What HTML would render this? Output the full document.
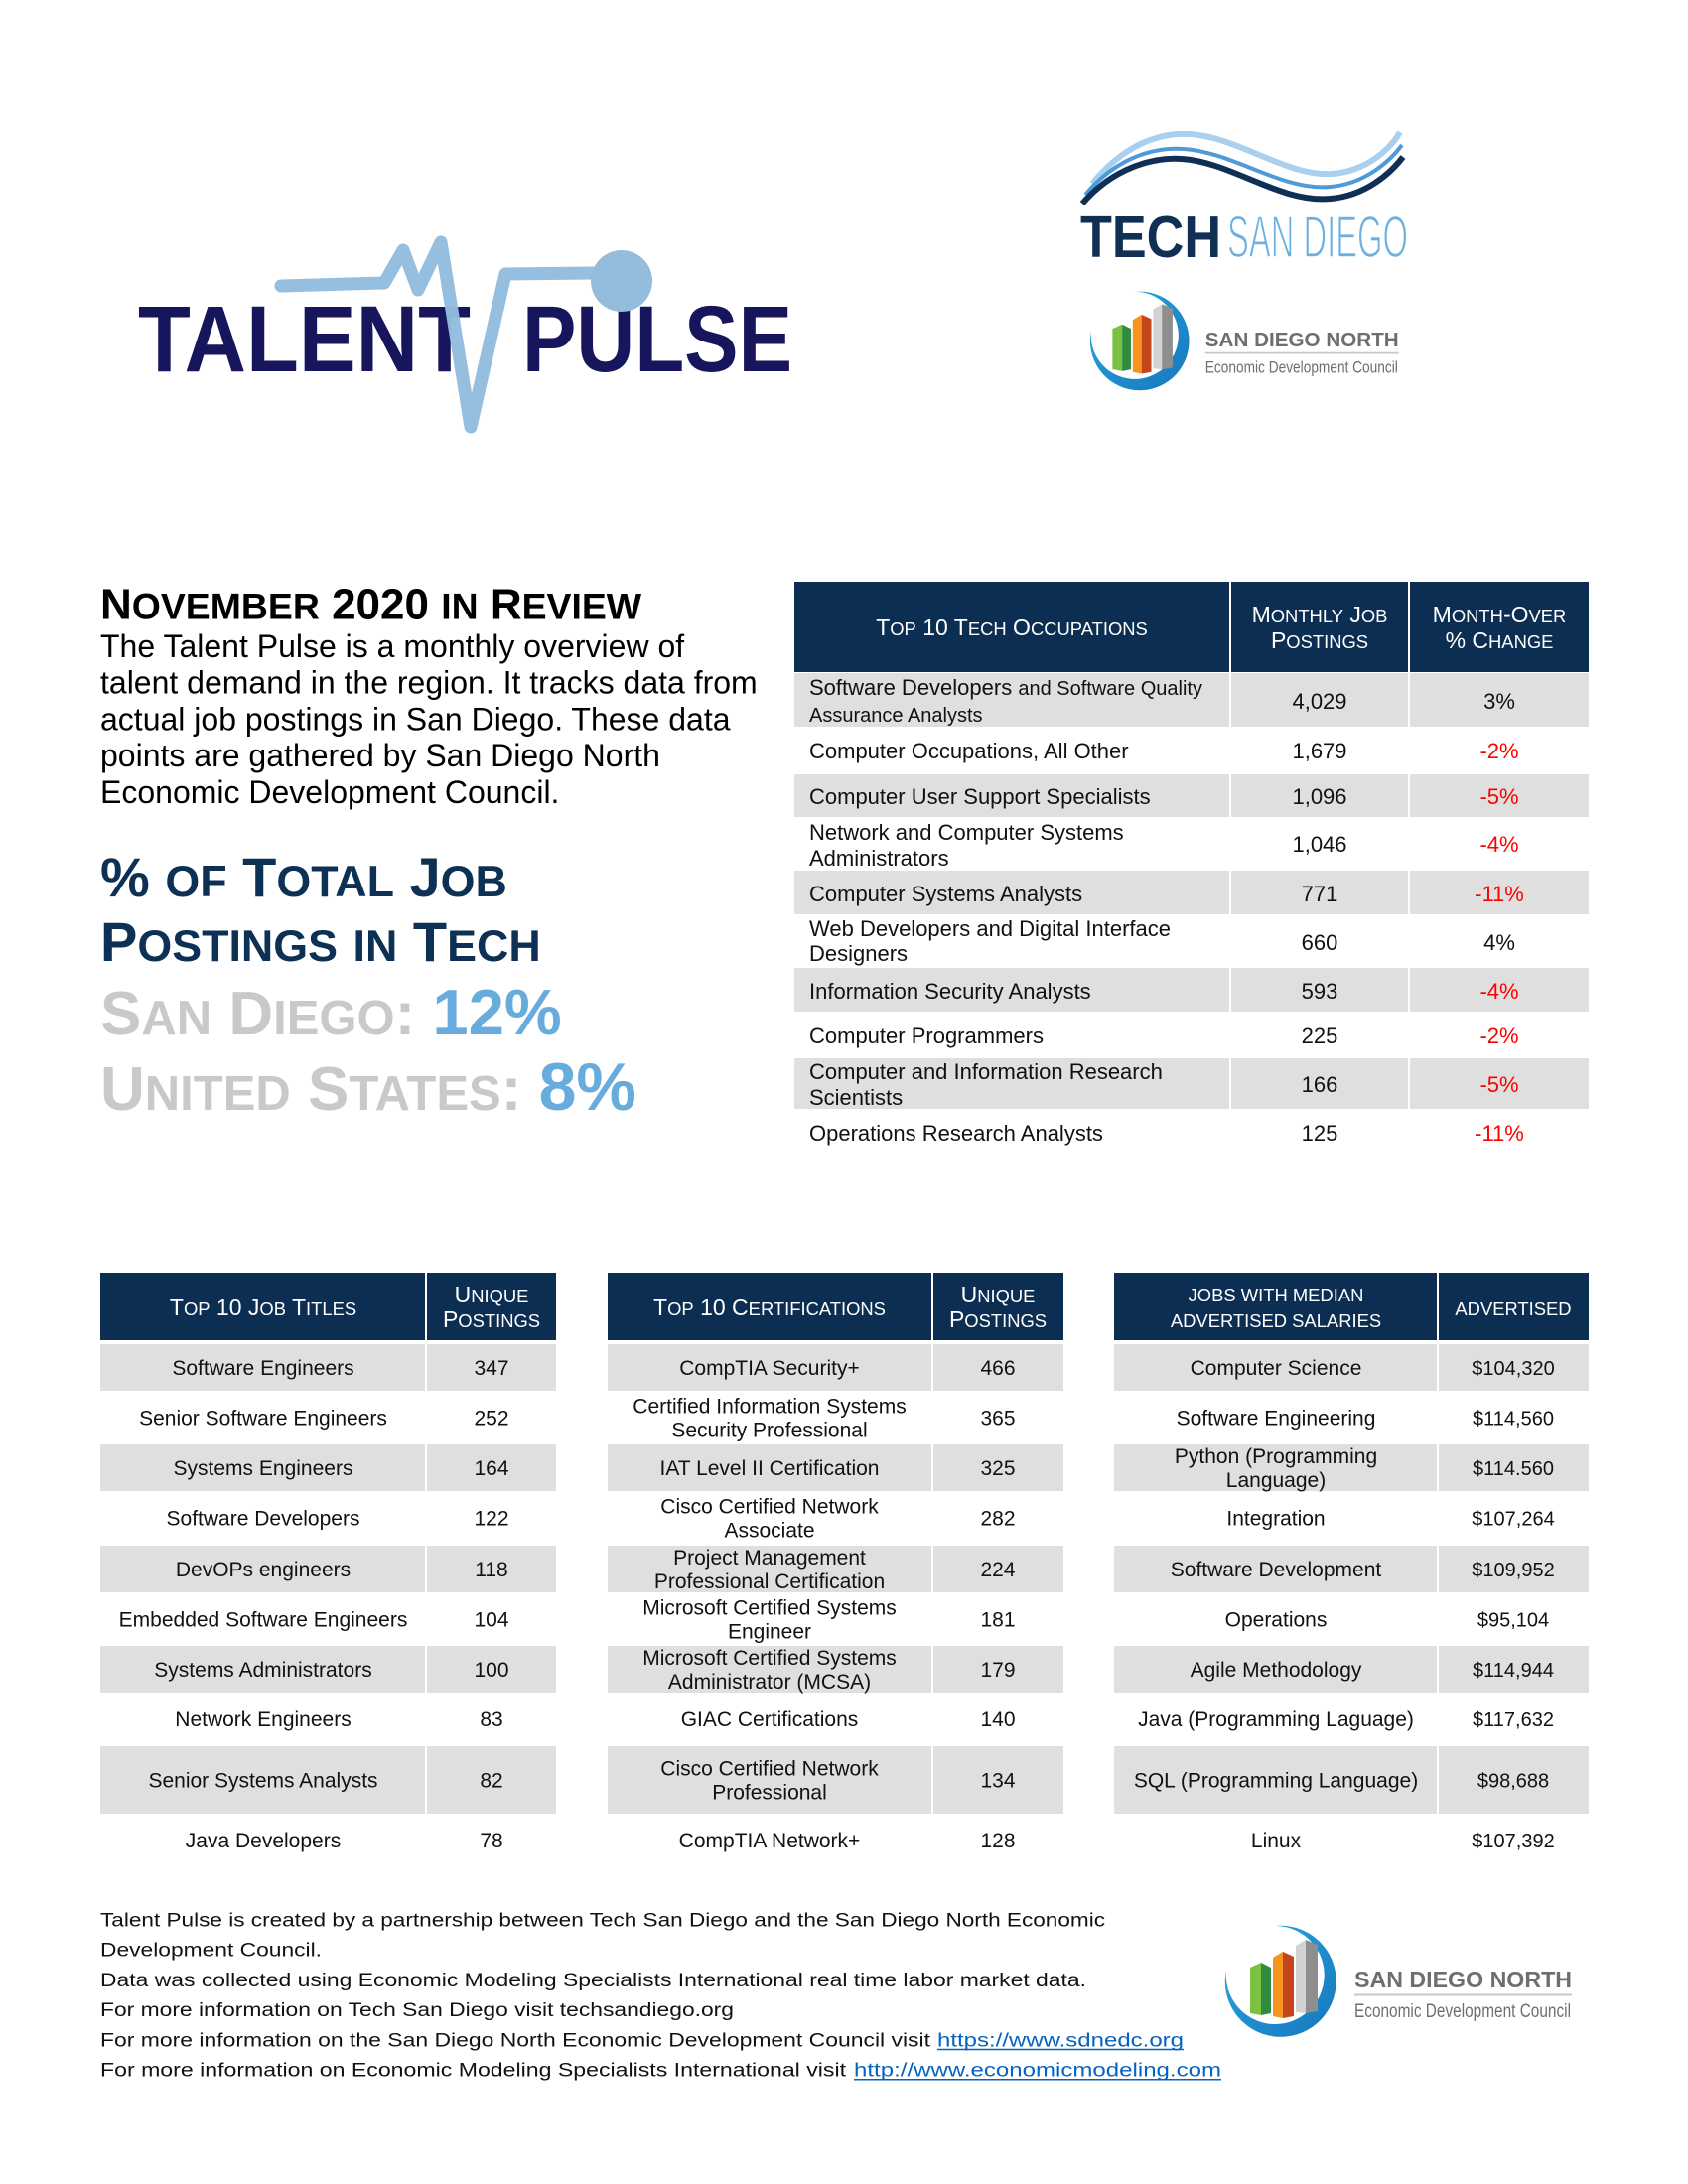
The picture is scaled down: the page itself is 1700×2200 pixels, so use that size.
<!DOCTYPE html>
<html><head><meta charset="utf-8"><style>
html,body{margin:0;padding:0;background:#fff;}
svg{display:block;}
text{font-family:"Liberation Sans",Arial,sans-serif;}
</style></head><body>
<svg width="1700" height="2200" viewBox="0 0 1700 2200" xmlns="http://www.w3.org/2000/svg">
<defs>
<linearGradient id="sw" x1="0" y1="0" x2="1" y2="1"><stop offset="0" stop-color="#2aa7e0"/><stop offset="1" stop-color="#1677bd"/></linearGradient>
</defs>
<rect width="1700" height="2200" fill="#fff"/>

<!-- TALENT PULSE logo -->
<text x="139" y="374" font-size="95" font-weight="bold" fill="#17155b" textLength="335" lengthAdjust="spacingAndGlyphs">TALENT</text>
<text x="526" y="374" font-size="95" font-weight="bold" fill="#17155b" textLength="272" lengthAdjust="spacingAndGlyphs">PULSE</text>
<polyline points="283,288 387,285 406,252 421,292 444,244 474,430 509,276 597,275" fill="none" stroke="#93bcdd" stroke-width="13" stroke-linecap="round" stroke-linejoin="round" opacity="0.97"/>
<circle cx="626" cy="283" r="31" fill="#93bcdd"/>

<!-- TECH SAN DIEGO logo -->
<path d="M1100 185 C1130 148,1165 133,1198 135 C1248 138,1295 178,1342 175 C1377 172,1400 150,1410 133" fill="none" stroke="#a9d0ef" stroke-width="6"/>
<path d="M1093 196 C1123 160,1160 148,1192 150 C1242 153,1292 193,1340 188 C1375 185,1400 162,1412 146" fill="none" stroke="#4f9ad8" stroke-width="4"/>
<path d="M1090 205 C1120 170,1160 158,1190 160 C1240 163,1290 205,1340 200 C1375 197,1400 175,1413 158" fill="none" stroke="#0f2f55" stroke-width="6"/>
<text x="1088" y="259" font-size="59" font-weight="bold" fill="#0f2f55" textLength="142" lengthAdjust="spacingAndGlyphs">TECH</text>
<text x="1236" y="259" font-size="59" fill="#6cb0e2" stroke="#fff" stroke-width="1.6" textLength="182" lengthAdjust="spacingAndGlyphs">SAN DIEGO</text>

<!-- SDN logo top -->
<g transform="translate(1099,292) scale(0.89)">
<path d="M50 2 A56 56 0 1 1 0 46 A49.5 49.5 0 1 0 50 2 Z" fill="url(#sw)"/>
<polygon points="24,44 35,39 35,92 24,90" fill="#7cc242"/><polygon points="35,39 45,44 45,90 35,92" fill="#2e8b3f"/>
<polygon points="47,34 57,28 57,95 47,93" fill="#f7941d"/><polygon points="57,28 68,33 68,93 57,95" fill="#c4441c"/>
<polygon points="70,22 80,16 80,90 70,89" fill="#d2d2d2"/><polygon points="80,16 92,21 92,88 80,90" fill="#8e8e8e"/>
<text x="129" y="64" font-size="23" font-weight="bold" fill="#6d6e71" textLength="219" lengthAdjust="spacingAndGlyphs">SAN DIEGO NORTH</text>
<line x1="129" y1="71.5" x2="348" y2="71.5" stroke="#c8c8c8" stroke-width="2"/>
<text x="129" y="94" font-size="19" fill="#6d6e71" textLength="218" lengthAdjust="spacingAndGlyphs">Economic Development Council</text>
</g>

<!-- Left text block -->
<text x="101" y="623.5" font-size="44" font-weight="bold" fill="#000">N<tspan font-size="37.4">OVEMBER</tspan> 2020 <tspan font-size="37.4">IN</tspan> R<tspan font-size="37.4">EVIEW</tspan></text>
<g font-size="32" fill="#000">
<text x="101" y="662">The Talent Pulse is a monthly overview of</text>
<text x="101" y="698.5">talent demand in the region. It tracks data from</text>
<text x="101" y="735.5">actual job postings in San Diego. These data</text>
<text x="101" y="772">points are gathered by San Diego North</text>
<text x="101" y="809">Economic Development Council.</text>
</g>
<g font-weight="bold" fill="#0c3154" font-size="56">
<text x="101" y="903">% <tspan font-size="44.8">OF</tspan> T<tspan font-size="44.8">OTAL</tspan> J<tspan font-size="44.8">OB</tspan></text>
<text x="101" y="968">P<tspan font-size="44.8">OSTINGS</tspan> <tspan font-size="44.8">IN</tspan> T<tspan font-size="44.8">ECH</tspan></text>
</g>
<g font-weight="bold" fill="#c9c9c9" font-size="62">
<text x="101" y="1042">S<tspan font-size="49">AN</tspan> D<tspan font-size="49">IEGO</tspan>: <tspan fill="#68acdd" font-size="65">12%</tspan></text>
<text x="101" y="1118">U<tspan font-size="49">NITED</tspan> S<tspan font-size="49">TATES</tspan>: <tspan fill="#68acdd" font-size="68">8%</tspan></text>
</g>

<!-- Top table -->
<rect x="800" y="586" width="800" height="91" fill="#0c2e52"/>
<rect x="1238" y="586" width="2" height="91" fill="#fff"/>
<rect x="1418" y="586" width="2" height="91" fill="#fff"/>
<g fill="#dfdfdf">
<rect x="800" y="678" width="438" height="54"/><rect x="1240" y="678" width="178" height="54"/><rect x="1420" y="678" width="180" height="54"/>
<rect x="800" y="780" width="438" height="43"/><rect x="1240" y="780" width="178" height="43"/><rect x="1420" y="780" width="180" height="43"/>
<rect x="800" y="877" width="438" height="44"/><rect x="1240" y="877" width="178" height="44"/><rect x="1420" y="877" width="180" height="44"/>
<rect x="800" y="975" width="438" height="44"/><rect x="1240" y="975" width="178" height="44"/><rect x="1420" y="975" width="180" height="44"/>
<rect x="800" y="1066" width="438" height="51"/><rect x="1240" y="1066" width="178" height="51"/><rect x="1420" y="1066" width="180" height="51"/>
</g>
<g fill="#fff" font-size="23" text-anchor="middle">
<text x="1019" y="640">T<tspan font-size="18.4">OP</tspan> 10 T<tspan font-size="18.4">ECH</tspan> O<tspan font-size="18.4">CCUPATIONS</tspan></text>
<text x="1329" y="627">M<tspan font-size="18.4">ONTHLY</tspan> J<tspan font-size="18.4">OB</tspan></text>
<text x="1329" y="653">P<tspan font-size="18.4">OSTINGS</tspan></text>
<text x="1510" y="627">M<tspan font-size="18.4">ONTH</tspan>-O<tspan font-size="18.4">VER</tspan></text>
<text x="1510" y="653">% C<tspan font-size="18.4">HANGE</tspan></text>
</g>
<g font-size="22" fill="#111">
<text x="815" y="700">Software Developers <tspan font-size="20">and Software Quality</tspan></text>
<text x="815" y="727" font-size="20">Assurance Analysts</text>
<text x="815" y="764">Computer Occupations, All Other</text>
<text x="815" y="810">Computer User Support Specialists</text>
<text x="815" y="846">Network and Computer Systems</text>
<text x="815" y="872">Administrators</text>
<text x="815" y="908">Computer Systems Analysts</text>
<text x="815" y="943">Web Developers and Digital Interface</text>
<text x="815" y="968">Designers</text>
<text x="815" y="1006">Information Security Analysts</text>
<text x="815" y="1051">Computer Programmers</text>
<text x="815" y="1087">Computer and Information Research</text>
<text x="815" y="1113">Scientists</text>
<text x="815" y="1149">Operations Research Analysts</text>
</g>
<g font-size="22" fill="#111" text-anchor="middle">
<text x="1329" y="714">4,029</text><text x="1510" y="714">3%</text>
<text x="1329" y="764">1,679</text>
<text x="1329" y="810">1,096</text>
<text x="1329" y="858">1,046</text>
<text x="1329" y="908">771</text>
<text x="1329" y="957">660</text><text x="1510" y="957">4%</text>
<text x="1329" y="1006">593</text>
<text x="1329" y="1051">225</text>
<text x="1329" y="1100">166</text>
<text x="1329" y="1149">125</text>
</g>
<g font-size="22" fill="#ff0000" text-anchor="middle">
<text x="1510" y="764">-2%</text>
<text x="1510" y="810">-5%</text>
<text x="1510" y="858">-4%</text>
<text x="1510" y="908">-11%</text>
<text x="1510" y="1006">-4%</text>
<text x="1510" y="1051">-2%</text>
<text x="1510" y="1100">-5%</text>
<text x="1510" y="1149">-11%</text>
</g>

<!-- Bottom tables: headers -->
<g fill="#0c2e52">
<rect x="101" y="1282" width="459" height="68"/>
<rect x="612" y="1282" width="459" height="68"/>
<rect x="1122" y="1282" width="478" height="68"/>
</g>
<g fill="#fff">
<rect x="428" y="1282" width="2" height="68"/>
<rect x="938" y="1282" width="2" height="68"/>
<rect x="1447" y="1282" width="2" height="68"/>
</g>
<!-- gray rows -->
<g fill="#dfdfdf">
<rect x="101" y="1354" width="327" height="47"/><rect x="430" y="1354" width="130" height="47"/>
<rect x="612" y="1354" width="326" height="47"/><rect x="940" y="1354" width="131" height="47"/>
<rect x="1122" y="1354" width="325" height="47"/><rect x="1449" y="1354" width="151" height="47"/>

<rect x="101" y="1455" width="327" height="47"/><rect x="430" y="1455" width="130" height="47"/>
<rect x="612" y="1455" width="326" height="47"/><rect x="940" y="1455" width="131" height="47"/>
<rect x="1122" y="1455" width="325" height="47"/><rect x="1449" y="1455" width="151" height="47"/>

<rect x="101" y="1557" width="327" height="47"/><rect x="430" y="1557" width="130" height="47"/>
<rect x="612" y="1557" width="326" height="47"/><rect x="940" y="1557" width="131" height="47"/>
<rect x="1122" y="1557" width="325" height="47"/><rect x="1449" y="1557" width="151" height="47"/>

<rect x="101" y="1658" width="327" height="47"/><rect x="430" y="1658" width="130" height="47"/>
<rect x="612" y="1658" width="326" height="47"/><rect x="940" y="1658" width="131" height="47"/>
<rect x="1122" y="1658" width="325" height="47"/><rect x="1449" y="1658" width="151" height="47"/>

<rect x="101" y="1759" width="327" height="68"/><rect x="430" y="1759" width="130" height="68"/>
<rect x="612" y="1759" width="326" height="68"/><rect x="940" y="1759" width="131" height="68"/>
<rect x="1122" y="1759" width="325" height="68"/><rect x="1449" y="1759" width="151" height="68"/>
</g>
<g fill="#fff" font-size="23" text-anchor="middle">
<text x="265" y="1325">T<tspan font-size="18.4">OP</tspan> 10 J<tspan font-size="18.4">OB</tspan> T<tspan font-size="18.4">ITLES</tspan></text>
<text x="495" y="1312">U<tspan font-size="18.4">NIQUE</tspan></text>
<text x="495" y="1337">P<tspan font-size="18.4">OSTINGS</tspan></text>
<text x="775" y="1325">T<tspan font-size="18.4">OP</tspan> 10 C<tspan font-size="18.4">ERTIFICATIONS</tspan></text>
<text x="1005" y="1312">U<tspan font-size="18.4">NIQUE</tspan></text>
<text x="1005" y="1337">P<tspan font-size="18.4">OSTINGS</tspan></text>
<text x="1285" y="1311" font-size="18.4">JOBS WITH MEDIAN</text>
<text x="1285" y="1337" font-size="18.4">ADVERTISED SALARIES</text>
<text x="1524" y="1325" font-size="18.4">ADVERTISED</text>
</g>
<!-- bottom table A -->
<g font-size="21" fill="#111" text-anchor="middle">
<text x="265" y="1385">Software Engineers</text><text x="495" y="1385">347</text>
<text x="265" y="1435.5">Senior Software Engineers</text><text x="495" y="1435.5">252</text>
<text x="265" y="1486">Systems Engineers</text><text x="495" y="1486">164</text>
<text x="265" y="1536.5">Software Developers</text><text x="495" y="1536.5">122</text>
<text x="265" y="1588">DevOPs engineers</text><text x="495" y="1588">118</text>
<text x="265" y="1638.5">Embedded Software Engineers</text><text x="495" y="1638.5">104</text>
<text x="265" y="1689">Systems Administrators</text><text x="495" y="1689">100</text>
<text x="265" y="1739">Network Engineers</text><text x="495" y="1739">83</text>
<text x="265" y="1800.5">Senior Systems Analysts</text><text x="495" y="1800.5">82</text>
<text x="265" y="1861">Java Developers</text><text x="495" y="1861">78</text>
</g>
<!-- bottom table B -->
<g font-size="21" fill="#111" text-anchor="middle">
<text x="775" y="1385">CompTIA Security+</text><text x="1005" y="1385">466</text>
<text x="775" y="1423.5">Certified Information Systems</text><text x="775" y="1447.5">Security Professional</text><text x="1005" y="1435.5">365</text>
<text x="775" y="1486">IAT Level II Certification</text><text x="1005" y="1486">325</text>
<text x="775" y="1524.5">Cisco Certified Network</text><text x="775" y="1548.5">Associate</text><text x="1005" y="1536.5">282</text>
<text x="775" y="1576">Project Management</text><text x="775" y="1600">Professional Certification</text><text x="1005" y="1588">224</text>
<text x="775" y="1626.5">Microsoft Certified Systems</text><text x="775" y="1650.5">Engineer</text><text x="1005" y="1638.5">181</text>
<text x="775" y="1677">Microsoft Certified Systems</text><text x="775" y="1701">Administrator (MCSA)</text><text x="1005" y="1689">179</text>
<text x="775" y="1739">GIAC Certifications</text><text x="1005" y="1739">140</text>
<text x="775" y="1788.5">Cisco Certified Network</text><text x="775" y="1812.5">Professional</text><text x="1005" y="1800.5">134</text>
<text x="775" y="1861">CompTIA Network+</text><text x="1005" y="1861">128</text>
</g>
<!-- bottom table C -->
<g font-size="21" fill="#111" text-anchor="middle">
<text x="1285" y="1385">Computer Science</text>
<text x="1285" y="1435.5">Software Engineering</text>
<text x="1285" y="1474">Python (Programming</text><text x="1285" y="1498">Language)</text>
<text x="1285" y="1536.5">Integration</text>
<text x="1285" y="1588">Software Development</text>
<text x="1285" y="1638.5">Operations</text>
<text x="1285" y="1689">Agile Methodology</text>
<text x="1285" y="1739">Java (Programming Laguage)</text>
<text x="1285" y="1800.5">SQL (Programming Language)</text>
<text x="1285" y="1861">Linux</text>
</g>
<g font-size="20" fill="#111" text-anchor="middle">
<text x="1524" y="1385">$104,320</text>
<text x="1524" y="1435.5">$114,560</text>
<text x="1524" y="1486">$114.560</text>
<text x="1524" y="1536.5">$107,264</text>
<text x="1524" y="1588">$109,952</text>
<text x="1524" y="1638.5">$95,104</text>
<text x="1524" y="1689">$114,944</text>
<text x="1524" y="1739">$117,632</text>
<text x="1524" y="1800.5">$98,688</text>
<text x="1524" y="1861">$107,392</text>
</g>

<!-- Footer -->
<g font-size="19" fill="#111">
<text x="101" y="1940.5" textLength="1012" lengthAdjust="spacingAndGlyphs">Talent Pulse is created by a partnership between Tech San Diego and the San Diego North Economic</text>
<text x="101" y="1970.7" textLength="223" lengthAdjust="spacingAndGlyphs">Development Council.</text>
<text x="101" y="2000.9" textLength="993" lengthAdjust="spacingAndGlyphs">Data was collected using Economic Modeling Specialists International real time labor market data.</text>
<text x="101" y="2031.1" textLength="638" lengthAdjust="spacingAndGlyphs">For more information on Tech San Diego visit techsandiego.org</text>
<text x="101" y="2061.3" textLength="836" lengthAdjust="spacingAndGlyphs">For more information on the San Diego North Economic Development Council visit</text>
<text x="101" y="2091.5" textLength="751" lengthAdjust="spacingAndGlyphs">For more information on Economic Modeling Specialists International visit</text>
</g>
<g font-size="19" fill="#0563c1">
<text x="944" y="2061.3" textLength="248" lengthAdjust="spacingAndGlyphs">https://www.sdnedc.org</text>
<text x="860" y="2091.5" textLength="370" lengthAdjust="spacingAndGlyphs">http://www.economicmodeling.com</text>
</g>
<line x1="944" y1="2064.5" x2="1192" y2="2064.5" stroke="#0563c1" stroke-width="1.5"/>
<line x1="860" y1="2094.7" x2="1230" y2="2094.7" stroke="#0563c1" stroke-width="1.5"/>

<!-- SDN logo bottom -->
<g transform="translate(1235,1938)">
<path d="M50 2 A56 56 0 1 1 0 46 A49.5 49.5 0 1 0 50 2 Z" fill="url(#sw)"/>
<polygon points="24,44 35,39 35,92 24,90" fill="#7cc242"/><polygon points="35,39 45,44 45,90 35,92" fill="#2e8b3f"/>
<polygon points="47,34 57,28 57,95 47,93" fill="#f7941d"/><polygon points="57,28 68,33 68,93 57,95" fill="#c4441c"/>
<polygon points="70,22 80,16 80,90 70,89" fill="#d2d2d2"/><polygon points="80,16 92,21 92,88 80,90" fill="#8e8e8e"/>
<text x="129" y="64" font-size="23" font-weight="bold" fill="#6d6e71" textLength="219" lengthAdjust="spacingAndGlyphs">SAN DIEGO NORTH</text>
<line x1="129" y1="71.5" x2="348" y2="71.5" stroke="#c8c8c8" stroke-width="2"/>
<text x="129" y="94" font-size="19" fill="#6d6e71" textLength="218" lengthAdjust="spacingAndGlyphs">Economic Development Council</text>
</g>
</svg>
</body></html>
